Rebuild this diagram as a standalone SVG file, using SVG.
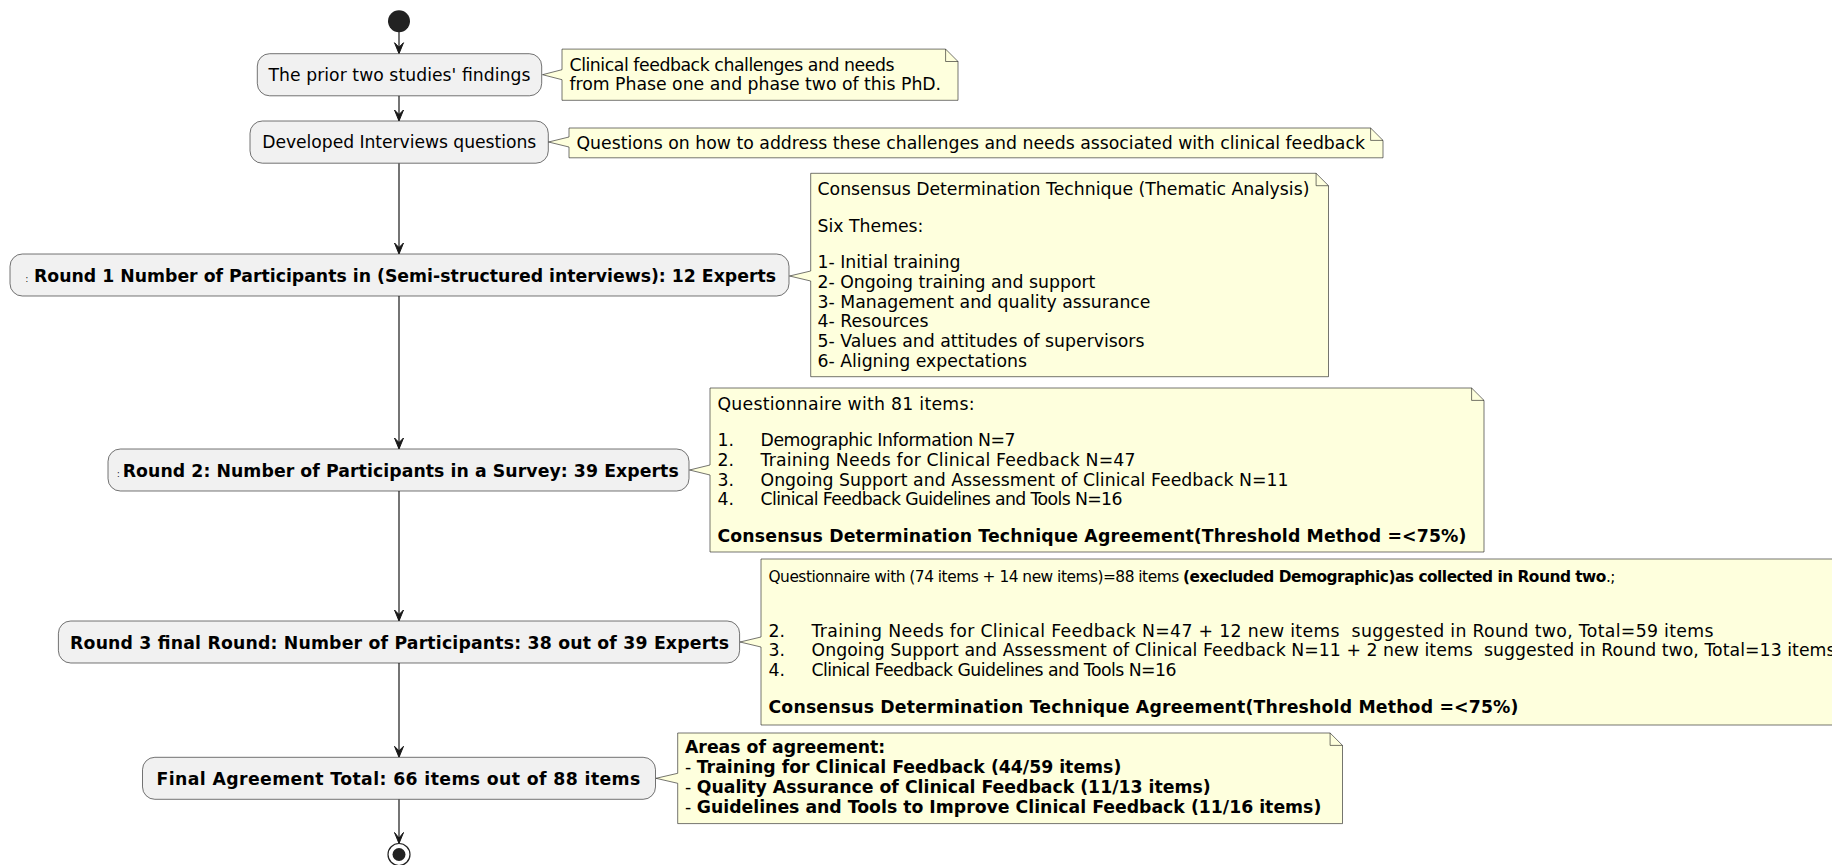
<svg xmlns="http://www.w3.org/2000/svg" width="1832" height="865" viewBox="0 0 1832 865">
<style>
.box{fill:#F1F1F1;stroke:#181818;stroke-width:0.6}
.note{fill:#FEFFDD;stroke:#181818;stroke-width:0.6}
.fold{fill:none;stroke:#181818;stroke-width:0.6}
.t{font-family:"DejaVu Sans",sans-serif;font-size:17.2px;fill:#000}
.b{font-family:"DejaVu Sans",sans-serif;font-size:17.3px;font-weight:bold;fill:#000}
.c{font-family:"DejaVu Sans",sans-serif;font-size:8px;fill:#000}
.n{font-family:"DejaVu Sans",sans-serif;font-size:17.3px;fill:#000}
.ns{font-family:"DejaVu Sans",sans-serif;font-size:15.4px;fill:#000}
.nb{font-family:"DejaVu Sans",sans-serif;font-size:17.3px;font-weight:bold;fill:#000}
.bo{font-weight:bold}
.line{stroke:#181818;stroke-width:1.2;fill:none}
.head{fill:#181818;stroke:#181818;stroke-width:1}
</style>
<g id="connectors">
<line class="line" x1="399" y1="32" x2="399" y2="53"/>
<polygon class="head" points="394.5,42.7 399,53.7 403.5,42.7 399,47.2"/>
<line class="line" x1="399" y1="95.8" x2="399" y2="120"/>
<polygon class="head" points="394.5,110 399,121 403.5,110 399,114.5"/>
<line class="line" x1="399" y1="163.2" x2="399" y2="253"/>
<polygon class="head" points="394.5,243 399,254 403.5,243 399,247.5"/>
<line class="line" x1="399" y1="296" x2="399" y2="448"/>
<polygon class="head" points="394.5,438 399,449 403.5,438 399,442.5"/>
<line class="line" x1="399" y1="491" x2="399" y2="620"/>
<polygon class="head" points="394.5,610 399,621 403.5,610 399,614.5"/>
<line class="line" x1="399" y1="663" x2="399" y2="756"/>
<polygon class="head" points="394.5,746.3 399,757.3 403.5,746.3 399,750.8"/>
<line class="line" x1="399" y1="799.3" x2="399" y2="842.5"/>
<polygon class="head" points="394.5,832.5 399,843.5 403.5,832.5 399,838"/>
</g>
<g id="start">
<circle cx="399" cy="21.3" r="11" fill="#222222"/>
</g>
<g id="n1">
<rect class="box" x="257.3" y="53.7" width="284.4" height="42.1" rx="12.35"/>
<text class="t" x="399.5" y="81" text-anchor="middle" textLength="262" lengthAdjust="spacing">The prior two studies' findings</text>
</g>
<g id="n2">
<rect class="box" x="250" y="121" width="298.3" height="42.2" rx="12.35"/>
<text class="t" x="399.2" y="148.3" text-anchor="middle" textLength="274" lengthAdjust="spacing">Developed Interviews questions</text>
</g>
<g id="n3">
<rect class="box" x="10" y="254" width="779" height="42" rx="12.35"/>
<text class="c" x="25.5" y="282">:</text>
<text class="b" x="34" y="282" textLength="742" lengthAdjust="spacing">Round 1 Number of Participants in (Semi-structured interviews): 12 Experts</text>
</g>
<g id="n4">
<rect class="box" x="108" y="449" width="581" height="42" rx="12.35"/>
<text class="c" x="117" y="477">:</text>
<text class="b" x="122.7" y="477" textLength="556" lengthAdjust="spacing">Round 2: Number of Participants in a Survey: 39 Experts</text>
</g>
<g id="n5">
<rect class="box" x="58.4" y="621" width="681.2" height="42" rx="12.35"/>
<text class="b" x="70.1" y="649" textLength="659" lengthAdjust="spacing">Round 3 final Round: Number of Participants: 38 out of 39 Experts</text>
</g>
<g id="n6">
<rect class="box" x="142.5" y="757.3" width="513" height="42" rx="12.35"/>
<text class="b" x="156.6" y="785.3" textLength="483.7" lengthAdjust="spacing">Final Agreement Total: 66 items out of 88 items</text>
</g>
<g id="end">
<circle cx="399" cy="854.5" r="11" fill="#ffffff" stroke="#222222" stroke-width="1.2"/>
<circle cx="399" cy="854.5" r="6.5" fill="#222222"/>
</g>
<g id="note1">
<path class="note" d="M562,49.1 L945.6,49.1 L958,61.5 L958,100.3 L562,100.3 L562,79.7 L542.5,74.7 L562,69.7 Z"/>
<path class="fold" d="M945.6,49.1 L945.6,61.5 L958,61.5"/>
<text class="n" x="569.5" y="70.6" textLength="325" lengthAdjust="spacing">Clinical feedback challenges and needs</text>
<text class="n" x="569.5" y="90.3" textLength="371.6" lengthAdjust="spacing">from Phase one and phase two of this PhD.</text>
</g>
<g id="note2">
<path class="note" d="M569,128 L1370.6,128 L1383,140.4 L1383,157.8 L569,157.8 L569,147 L548.5,142 L569,137 Z"/>
<path class="fold" d="M1370.6,128 L1370.6,140.4 L1383,140.4"/>
<text class="n" x="576.5" y="148.5">Questions on how to address these challenges and needs associated with clinical feedback</text>
</g>
<g id="note3">
<path class="note" d="M810.7,173.3 L1316.1,173.3 L1328.5,185.7 L1328.5,376.7 L810.7,376.7 L810.7,281 L789.5,276 L810.7,271 Z"/>
<path class="fold" d="M1316.1,173.3 L1316.1,185.7 L1328.5,185.7"/>
<text class="n" x="817.5" y="194.8">Consensus Determination Technique (Thematic Analysis)</text>
<text class="n" x="817.5" y="231.5">Six Themes:</text>
<text class="n" x="817.5" y="268.2">1- Initial training</text>
<text class="n" x="817.5" y="287.9">2- Ongoing training and support</text>
<text class="n" x="817.5" y="307.6">3- Management and quality assurance</text>
<text class="n" x="817.5" y="327.3">4- Resources</text>
<text class="n" x="817.5" y="347">5- Values and attitudes of supervisors</text>
<text class="n" x="817.5" y="366.7">6- Aligning expectations</text>
</g>
<g id="note4">
<path class="note" d="M710,388 L1471.6,388 L1484,400.4 L1484,552 L710,552 L710,475 L689.5,470 L710,465 Z"/>
<path class="fold" d="M1471.6,388 L1471.6,400.4 L1484,400.4"/>
<text class="n" x="717.5" y="409.5" textLength="257" lengthAdjust="spacing">Questionnaire with 81 items:</text>
<text class="n" x="717.5" y="446.2">1.</text><text class="n" x="760.5" y="446.2" textLength="255" lengthAdjust="spacing">Demographic Information N=7</text>
<text class="n" x="717.5" y="465.9">2.</text><text class="n" x="760.5" y="465.9" textLength="375" lengthAdjust="spacing">Training Needs for Clinical Feedback N=47</text>
<text class="n" x="717.5" y="485.6">3.</text><text class="n" x="760.5" y="485.6" textLength="528" lengthAdjust="spacing">Ongoing Support and Assessment of Clinical Feedback N=11</text>
<text class="n" x="717.5" y="505.3">4.</text><text class="n" x="760.5" y="505.3" textLength="362" lengthAdjust="spacing">Clinical Feedback Guidelines and Tools N=16</text>
<text class="nb" x="717.5" y="542" textLength="749" lengthAdjust="spacing">Consensus Determination Technique Agreement(Threshold Method =&lt;75%)</text>
</g>
<g id="note5">
<path class="note" d="M761,559 L1900,559 L1900,725 L761,725 L761,647 L740,642 L761,637 Z"/>
<text class="ns" x="768.5" y="582" textLength="847" lengthAdjust="spacing">Questionnaire with (74 items + 14 new items)=88 items <tspan class="bo">(execluded Demographic)as collected in Round two</tspan>.;</text>
<text class="n" x="768.5" y="636.5">2.</text><text class="n" x="811.5" y="636.5" xml:space="preserve" textLength="902" lengthAdjust="spacing">Training Needs for Clinical Feedback N=47 + 12 new items  suggested in Round two, Total=59 items</text>
<text class="n" x="768.5" y="656.2">3.</text><text class="n" x="811.5" y="656.2" xml:space="preserve" textLength="1024" lengthAdjust="spacing">Ongoing Support and Assessment of Clinical Feedback N=11 + 2 new items  suggested in Round two, Total=13 items</text>
<text class="n" x="768.5" y="675.9">4.</text><text class="n" x="811.5" y="675.9" textLength="365" lengthAdjust="spacing">Clinical Feedback Guidelines and Tools N=16</text>
<text class="nb" x="768.5" y="712.6" textLength="750" lengthAdjust="spacing">Consensus Determination Technique Agreement(Threshold Method =&lt;75%)</text>
</g>
<g id="note6">
<path class="note" d="M677.7,733 L1330.1,733 L1342.5,745.4 L1342.5,823.6 L677.7,823.6 L677.7,783.3 L656,778.3 L677.7,773.3 Z"/>
<path class="fold" d="M1330.1,733 L1330.1,745.4 L1342.5,745.4"/>
<text class="nb" x="685" y="753">Areas of agreement:</text>
<text class="n" x="685" y="773">- <tspan class="bo">Training for Clinical Feedback (44/59 items)</tspan></text>
<text class="n" x="685" y="793">- <tspan class="bo">Quality Assurance of Clinical Feedback (11/13 items)</tspan></text>
<text class="n" x="685" y="813">- <tspan class="bo">Guidelines and Tools to Improve Clinical Feedback (11/16 items)</tspan></text>
</g>
</svg>
